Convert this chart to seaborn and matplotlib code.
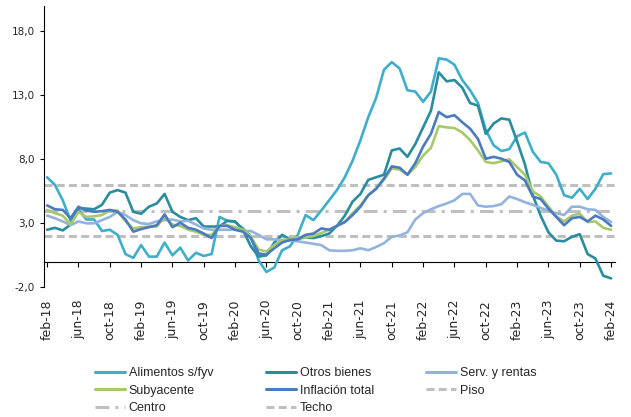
import matplotlib.pyplot as plt
import numpy as np
import pandas as pd
import seaborn as sns
from matplotlib.lines import Line2D

# monthly series, feb-18 .. feb-24 (73 months)
alimentos = [
    6.6, 6.0, 4.8, 3.2, 4.1, 3.3, 3.3, 2.4, 2.5, 2.1, 0.6, 0.3, 1.3, 0.4, 0.4, 1.5,
    0.5, 1.1, 0.1, 0.7, 0.45, 0.6, 3.5, 3.2, 3.1, 2.6, 2.0, 0.1, -0.8, -0.45, 0.9, 1.2,
    2.1, 3.65, 3.25, 4.0, 4.8, 5.6, 6.6, 7.9, 9.5, 11.3, 12.8, 15.0, 15.6, 15.1, 13.4, 13.3,
    12.5, 13.3, 15.9, 15.8, 15.4, 14.2, 13.4, 12.4, 10.3, 9.1, 8.65, 8.8, 9.8, 10.1, 8.6, 7.8,
    7.7, 6.8, 5.2, 5.0, 5.7, 4.9, 5.7, 6.85, 6.9,
]
otros_bienes = [
    2.5, 2.65, 2.45, 2.9, 4.2, 4.15, 4.1, 4.45, 5.4, 5.6, 5.4, 3.9, 3.75, 4.3, 4.55, 5.3,
    3.9, 3.5, 3.25, 3.4, 2.75, 2.75, 2.75, 3.2, 3.15, 2.5, 1.2, 0.4, 0.5, 1.5, 2.1, 1.75,
    1.8, 1.9, 1.85, 2.0, 2.2, 2.8, 3.6, 4.7, 5.3, 6.4, 6.6, 6.8, 8.7, 8.85, 8.2, 9.2,
    10.5, 11.8, 14.8, 14.1, 14.2, 13.6, 12.4, 12.2, 10.0, 10.8, 11.2, 11.1, 9.4, 7.6, 5.2, 3.6,
    2.3, 1.65, 1.6, 1.95, 2.15, 0.6, 0.25, -1.1, -1.3,
]
serv_rentas = [
    3.6, 3.4, 3.15, 2.85, 3.15, 3.0, 3.0, 3.25, 3.5, 3.9, 3.65, 3.25, 3.0, 2.95, 3.15, 3.25,
    3.3, 3.15, 3.2, 2.9, 2.6, 2.5, 2.5, 2.5, 2.5, 2.4, 2.4, 2.1, 1.75, 1.75, 1.7, 1.65,
    1.6, 1.5, 1.4, 1.3, 0.9, 0.85, 0.85, 0.9, 1.05, 0.9, 1.15, 1.45, 1.95, 2.05, 2.3, 3.3,
    3.8, 4.1, 4.35, 4.55, 4.8, 5.3, 5.3, 4.4, 4.3, 4.35, 4.5, 5.1, 4.9, 4.65, 4.45, 4.2,
    4.0, 3.8, 3.65, 4.3, 4.3, 4.1, 4.05, 3.5, 3.1,
]
subyacente = [
    4.05, 3.8, 3.6, 2.9, 3.9, 3.5, 3.55, 3.65, 4.0, 4.0, 3.15, 2.6, 2.7, 2.75, 2.75, 3.5,
    2.9, 2.8, 2.5, 2.35, 2.1, 2.1, 2.8, 2.85, 2.7, 2.5, 1.95, 0.95, 0.8, 1.3, 1.7, 1.75,
    1.9, 1.9, 2.0, 2.25, 2.5, 2.8, 3.1, 3.8, 4.4, 5.2, 5.7, 6.4, 7.3, 7.2, 6.8, 7.4,
    8.3, 8.9, 10.6, 10.5, 10.45, 10.1, 9.5, 8.7, 7.8, 7.7, 7.85, 8.0, 7.4, 6.8, 5.5, 5.1,
    4.3, 3.55, 3.15, 3.6, 3.75, 3.1, 3.15, 2.65, 2.5,
]
inflacion_total = [
    4.4, 4.1, 4.05, 3.4, 4.3, 4.0, 3.9, 3.95, 4.05, 3.9, 3.3, 2.35, 2.55, 2.7, 2.85, 3.7,
    2.7, 3.05, 2.65, 2.5, 2.2, 1.85, 2.8, 2.8, 2.5, 2.35, 1.85, 0.65, 0.55, 1.05, 1.5, 1.7,
    1.75, 2.1, 2.2, 2.6, 2.5, 2.8, 3.1, 3.65, 4.3, 5.2, 5.7, 6.5, 7.45, 7.35, 6.8, 7.7,
    9.0, 10.0, 11.7, 11.3, 11.45, 10.9, 10.4, 9.6, 8.05, 8.2, 8.05, 7.8, 6.8, 6.35, 5.1, 4.9,
    4.15, 3.5, 2.85, 3.4, 3.5, 3.15, 3.6, 3.3, 2.8,
]

# target band
piso = 2.0
centro = 4.0
techo = 6.0

etiquetas = [
    "feb-18", "jun-18", "oct-18", "feb-19", "jun-19", "oct-19", "feb-20",
    "jun-20", "oct-20", "feb-21", "jun-21", "oct-21", "feb-22", "jun-22",
    "oct-22", "feb-23", "jun-23", "oct-23", "feb-24",
]
yticks = [-2, 3, 8, 13, 18]

colores = {
    "Alimentos s/fyv": "#3FAECA",
    "Otros bienes": "#2A8C9F",
    "Serv. y rentas": "#93B3DD",
    "Subyacente": "#A7C96B",
    "Inflación total": "#4A7BC0",
}
gris = "#BFBFBF"

sns.set_theme(style="white")
plt.rcParams["font.family"] = ["DejaVu Sans"]

df = pd.DataFrame({
    "mes": np.arange(len(alimentos)),
    "Alimentos s/fyv": alimentos,
    "Otros bienes": otros_bienes,
    "Serv. y rentas": serv_rentas,
    "Subyacente": subyacente,
    "Inflación total": inflacion_total,
})
largo = df.melt(id_vars="mes", var_name="serie", value_name="valor")

fig = plt.figure(figsize=(6.31, 4.17), dpi=100)
ax = fig.add_axes([0.0697, 0.311, 0.905, 0.675])

# reference lines
lw_ref = 2.2
guion = (0, (2.6, 1.4))
guion_punto = (0, (4.5, 2.0, 1.0, 2.0))
ax.axhline(piso, color=gris, lw=lw_ref, linestyle=guion, zorder=1)
ax.axhline(centro, color=gris, lw=lw_ref, linestyle=guion_punto, zorder=1)
ax.axhline(techo, color=gris, lw=lw_ref, linestyle=guion, zorder=1)

sns.lineplot(
    data=largo, x="mes", y="valor", hue="serie",
    hue_order=list(colores.keys()), palette=colores,
    linewidth=1.9, errorbar=None, legend=False, ax=ax,
)

ymin, ymax = -2, 20
ax.set_ylim(ymin, ymax)
ax.set_xlim(-0.4, 72.5)
ax.set_xlabel("")
ax.set_ylabel("")

ax.set_yticks(yticks)
ax.set_yticklabels([f"{v:.1f}".replace(".", ",") for v in yticks])
ax.tick_params(axis="y", direction="out", length=3, width=0.8, color="black",
               labelsize=7.5, pad=3.5, left=True)

posiciones = np.arange(0, len(alimentos), 4)
ax.set_xticks(posiciones)
ax.set_xticklabels(etiquetas, rotation=90, fontsize=9)
ax.tick_params(axis="x", length=0, pad=9)

for s in ["top", "right", "bottom"]:
    ax.spines[s].set_visible(False)
ax.spines["left"].set_color("black")
ax.spines["left"].set_linewidth(0.8)

# zero line with tick marks
eje0 = ax.secondary_xaxis((0 - ymin) / (ymax - ymin))
eje0.set_xticks(posiciones)
eje0.tick_params(axis="x", direction="out", length=3.5, width=0.8, color="black",
                 labelbottom=False)
eje0.spines["bottom"].set_color("black")
eje0.spines["bottom"].set_linewidth(0.8)

def linea(color, estilo="-"):
    return Line2D([], [], color=color, lw=lw_ref, linestyle=estilo)

handles = [
    linea(colores["Alimentos s/fyv"]), linea(colores["Subyacente"]), linea(gris, guion_punto),
    linea(colores["Otros bienes"]), linea(colores["Inflación total"]), linea(gris, guion),
    linea(colores["Serv. y rentas"]), linea(gris, guion),
]
labels = [
    "Alimentos s/fyv", "Subyacente", "Centro",
    "Otros bienes", "Inflación total", "Techo",
    "Serv. y rentas", "Piso",
]
fig.legend(
    handles, labels, loc="upper left", bbox_to_anchor=(95 / 631, 1 - 367 / 417),
    ncol=3, frameon=False, prop={"family": "Liberation Sans", "size": 9},
    handlelength=2.4, handletextpad=0.3, columnspacing=4.2, labelspacing=0.45,
    borderpad=0, borderaxespad=0,
)

fig.savefig("out.png", dpi=100)
